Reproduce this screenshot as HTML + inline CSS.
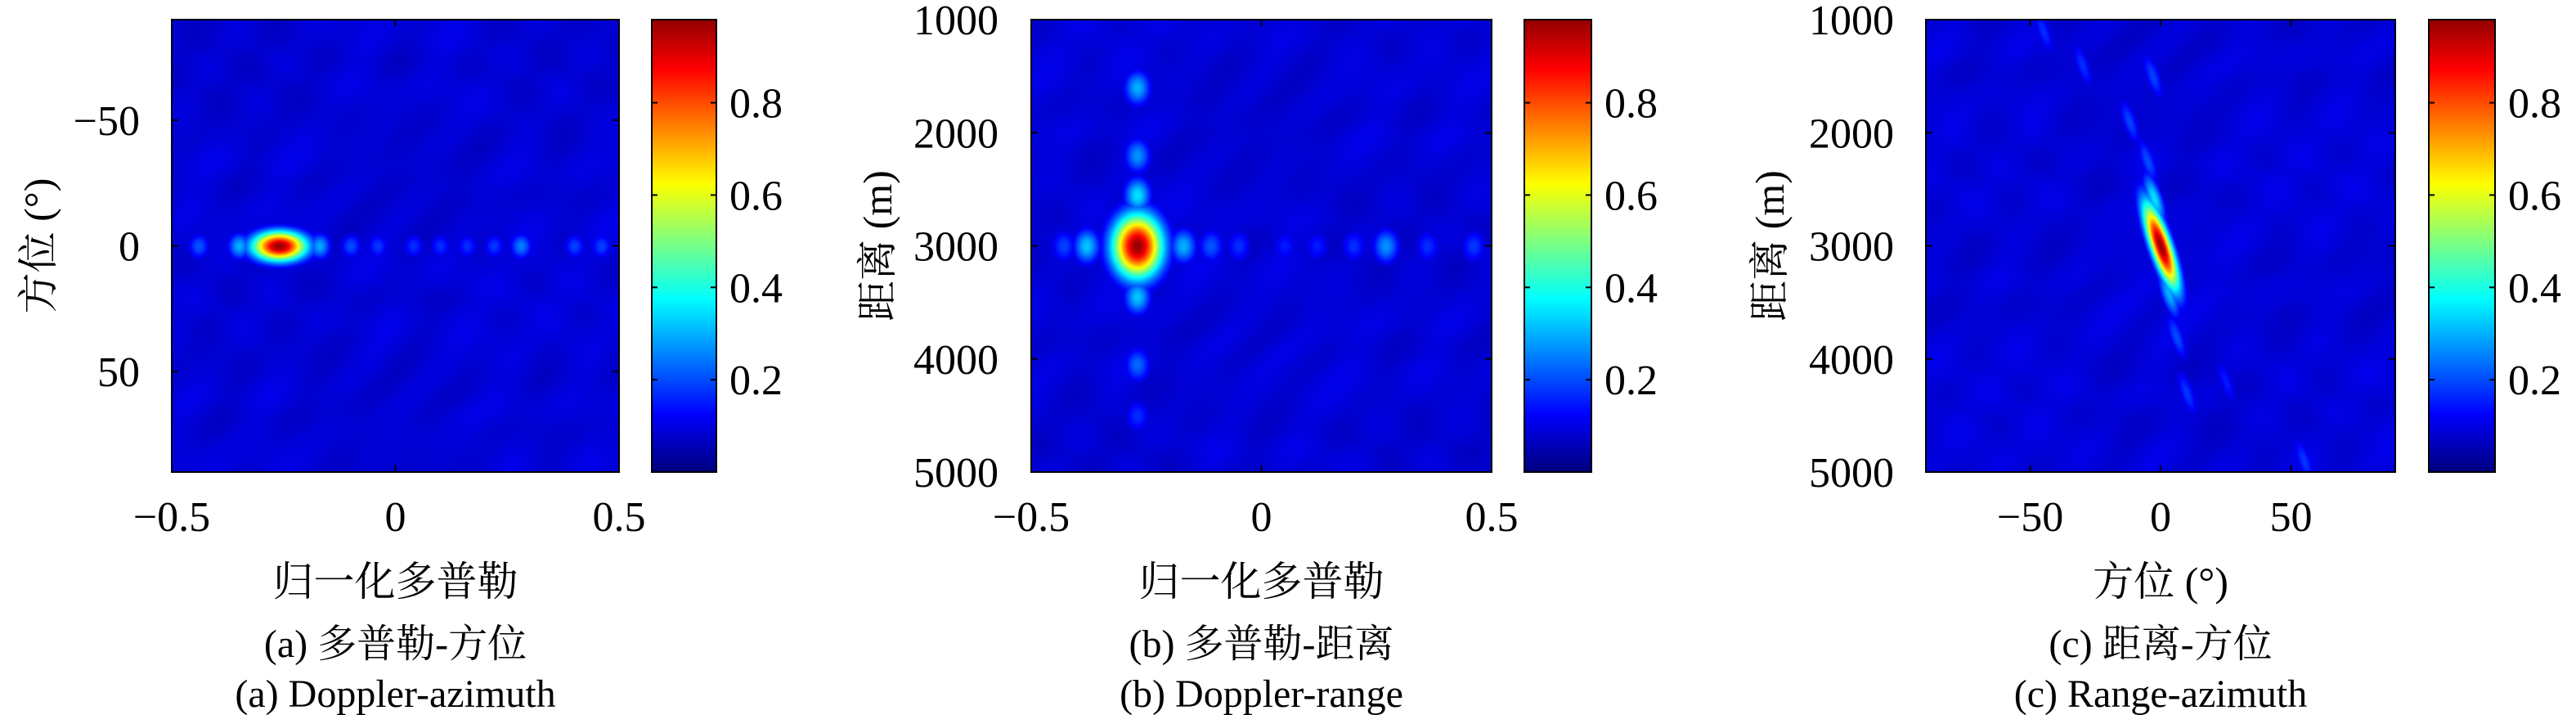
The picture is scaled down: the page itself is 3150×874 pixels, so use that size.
<!DOCTYPE html>
<html><head><meta charset="utf-8">
<style>
html,body{margin:0;padding:0;background:#fff;}
#root{position:relative;width:3150px;height:874px;overflow:hidden;background:#fff;}
canvas{position:absolute;}
svg{position:absolute;left:0;top:0;}
svg text{font-family:"Liberation Serif","Noto Serif CJK SC",serif;fill:#000;}
</style></head>
<body>
<div id="root">
<canvas id="ca" width="547" height="553" style="left:210px;top:24px"></canvas>
<canvas id="cb" width="563" height="553" style="left:1261px;top:24px"></canvas>
<canvas id="cc" width="574" height="553" style="left:2355px;top:24px"></canvas>
<canvas id="cba" width="79" height="553" style="left:797px;top:24px"></canvas>
<canvas id="cbb" width="82" height="553" style="left:1864px;top:24px"></canvas>
<canvas id="cbc" width="81" height="553" style="left:2970px;top:24px"></canvas>
<svg id="ov" width="3150" height="874"></svg>
</div>
<script>
// ---- data ----
// Panel a: Doppler (x) vs azimuth (y); blobs [doppler, azimuth, amplitude]
const aBlobs = [[-0.26,0,0.98],[-0.44,0,0.16],[-0.35,0,0.25],[-0.17,0,0.24],[-0.10,0,0.15],[-0.04,0,0.13],[0.04,0,0.12],[0.10,0,0.12],[0.16,0,0.12],[0.22,0,0.13],[0.28,0,0.2],[0.40,0,0.14],[0.46,0,0.14]];
const aXTicks = [-0.5,0,0.5];
const aXTickLabels = ["\u22120.5","0","0.5"];
const aYTicks = [-50,0,50];
const aYTickLabels = ["\u221250","0","50"];
// Panel b: Doppler (x) vs range (y); blobs [doppler, range, amplitude]
const bBlobs = [[-0.27,3000,0.98],[-0.27,1600,0.25],[-0.27,2200,0.22],[-0.27,2550,0.3],[-0.27,3450,0.27],[-0.27,4050,0.18],[-0.27,4500,0.12],[-0.38,3000,0.27],[-0.43,3000,0.14],[-0.17,3000,0.25],[-0.11,3000,0.16],[-0.05,3000,0.12],[0.05,3000,0.1],[0.12,3000,0.1],[0.2,3000,0.12],[0.27,3000,0.22],[0.36,3000,0.12],[0.46,3000,0.13]];
const bXTicks = [-0.5,0,0.5];
const bXTickLabels = ["\u22120.5","0","0.5"];
const bYTicks = [1000,2000,3000,4000,5000];
const bYTickLabels = ["1000","2000","3000","4000","5000"];
// Panel c: azimuth (x) vs range (y); blobs [azimuth, range, amplitude]
const cBlobs = [[0,3000,0.98],[-2.5,2580,0.3],[3,3420,0.25],[-5,2250,0.15],[6,3800,0.15],[-12,1900,0.14],[10,4300,0.13],[-3,1500,0.14],[-30,1400,0.12],[-45,1100,0.12],[25,4200,0.1],[55,4900,0.13]];
const cXTicks = [-50,0,50];
const cXTickLabels = ["\u221250","0","50"];
const cYTicks = [1000,2000,3000,4000,5000];
const cYTickLabels = ["1000","2000","3000","4000","5000"];
const cbTicks = [0.2,0.4,0.6,0.8];
const cbTickLabels = ["0.2","0.4","0.6","0.8"];
const cbMax = 0.98;

function jet(v){
  const c=x=>Math.max(0,Math.min(1,x));
  return [c(1.5-Math.abs(4*v-3))*255,c(1.5-Math.abs(4*v-2))*255,c(1.5-Math.abs(4*v-1))*255];
}
function lin(d0,d1,r0,r1){return v=>r0+(v-d0)/(d1-d0)*(r1-r0);}

const P = {
 a:{x:210,y:24,w:547,h:553,cb:797,cbw:79,xd:[-0.5,0.5],yd:[-90,90],blobs:aBlobs,xt:aXTicks,xl:aXTickLabels,yt:aYTicks,yl:aYTickLabels,
    main:[24,13,0],side:[10,12,0],canvas:'ca',cbc:'cba',ylab:'方位 (°)',ylx:47,xlab:'归一化多普勒',c1:'(a) 多普勒-方位',c2:'(a) Doppler-azimuth',tickR:171},
 b:{x:1261,y:24,w:563,h:553,cb:1864,cbw:82,xd:[-0.5,0.5],yd:[1000,5000],blobs:bBlobs,xt:bXTicks,xl:bXTickLabels,yt:bYTicks,yl:bYTickLabels,
    main:[22,28,0],side:[12,16,0],canvas:'cb',cbc:'cbb',ylab:'距离 (m)',ylx:1073,xlab:'归一化多普勒',c1:'(b) 多普勒-距离',c2:'(b) Doppler-range',tickR:1221},
 c:{x:2355,y:24,w:574,h:553,cb:2970,cbw:81,xd:[-90,90],yd:[1000,5000],blobs:cBlobs,xt:cXTicks,xl:cXTickLabels,yt:cYTicks,yl:cYTickLabels,
    main:[9,40,-0.33],side:[7,24,-0.33],canvas:'cc',cbc:'cbc',ylab:'距离 (m)',ylx:2164,xlab:'方位 (°)',c1:'(c) 距离-方位',c2:'(c) Range-azimuth',tickR:2316}
};

function drawHeat(p,seed){
  const cv=document.getElementById(p.canvas),ctx=cv.getContext('2d');
  const W=p.w,H=p.h,img=ctx.createImageData(W,H);
  const sx=lin(p.xd[0],p.xd[1],0,W), sy=lin(p.yd[0],p.yd[1],0,H);
  const bl=p.blobs.map((b,i)=>{const s=i===0?p.main:p.side;return {x:sx(b[0]),y:sy(b[1]),a:b[2],sa:s[0],sb:s[1],t:s[2]};});
  for(let j=0;j<H;j++)for(let i=0;i<W;i++){
    let v=0.085+0.012*Math.sin(i*0.031+seed+Math.sin(j*0.023+seed)*2.5)*Math.cos(j*0.041-seed*1.3+Math.cos(i*0.017)*2)+0.008*Math.sin(i*0.07+j*0.05+seed);
    for(const b of bl){
      const dx=i-b.x,dy=j-b.y,ct=Math.cos(b.t),st=Math.sin(b.t);
      const u=dx*ct+dy*st,w=-dx*st+dy*ct;
      const e=(u*u)/(b.sa*b.sa)+(w*w)/(b.sb*b.sb);
      if(e<14) v=Math.max(v,b.a*Math.exp(-e/2)+(b.a<0.5?0.05*Math.exp(-e/2):0));
    }
    const c=jet(Math.min(1,v)),k=(j*W+i)*4;
    img.data[k]=c[0];img.data[k+1]=c[1];img.data[k+2]=c[2];img.data[k+3]=255;
  }
  ctx.putImageData(img,0,0);
  const cb=document.getElementById(p.cbc),cx=cb.getContext('2d');
  for(let j=0;j<H;j++){const c=jet(cbMax*(1-j/(H-1)));cx.fillStyle=`rgb(${c[0]|0},${c[1]|0},${c[2]|0})`;cx.fillRect(0,j,cb.width,1);}
}

const NS='http://www.w3.org/2000/svg',ov=document.getElementById('ov');
const FF='"Liberation Serif","Noto Serif CJK SC",serif';
function el(tag,attrs,txt){const e=document.createElementNS(NS,tag);for(const k in attrs)e.setAttribute(k,attrs[k]);if(tag==='text')e.setAttribute('font-family',FF);if(txt!==undefined)e.textContent=txt;ov.appendChild(e);return e;}

let seed=0;
for(const key of ['a','b','c']){
  const p=P[key];seed+=1.7;
  drawHeat(p,seed);
  const sx=lin(p.xd[0],p.xd[1],p.x,p.x+p.w), sy=lin(p.yd[0],p.yd[1],p.y,p.y+p.h);
  const box=el('rect',{x:p.x,y:p.y,width:p.w,height:p.h,fill:'none',stroke:'#000','stroke-width':2});
  
  
  p.xt.forEach((t,i)=>{
    const X=sx(t);
    el('line',{x1:X,y1:p.y+p.h,x2:X,y2:p.y+p.h-8,stroke:'#000','stroke-width':2});
    el('line',{x1:X,y1:p.y,x2:X,y2:p.y+8,stroke:'#000','stroke-width':2});
    const tx=el('text',{x:X,y:649,'font-size':52,'text-anchor':'middle'},p.xl[i]);
    
    
  });
  p.yt.forEach((t,i)=>{
    const Y=sy(t);
    el('line',{x1:p.x,y1:Y,x2:p.x+8,y2:Y,stroke:'#000','stroke-width':2});
    el('line',{x1:p.x+p.w,y1:Y,x2:p.x+p.w-8,y2:Y,stroke:'#000','stroke-width':2});
    const ty=el('text',{x:p.tickR,y:Y+18,'font-size':52,'text-anchor':'end'},p.yl[i]);
    
    
  });
  const cbs=lin(0,cbMax,p.y+p.h,p.y);
  const cbr=el('rect',{x:p.cb,y:p.y,width:p.cbw,height:p.h,fill:'none',stroke:'#000','stroke-width':2});
  
  
  cbTicks.forEach((t,i)=>{
    const Y=cbs(t);
    el('line',{x1:p.cb,y1:Y,x2:p.cb+7,y2:Y,stroke:'#000','stroke-width':2});
    el('line',{x1:p.cb+p.cbw,y1:Y,x2:p.cb+p.cbw-7,y2:Y,stroke:'#000','stroke-width':2});
    const tl=el('text',{x:p.cb+p.cbw+16,y:Y+18,'font-size':52},cbTickLabels[i]);
    
    
  });
  const yl=el('text',{x:p.ylx,y:p.y+p.h/2,'font-size':50,'text-anchor':'middle','dominant-baseline':'central',transform:`rotate(-90 ${p.ylx} ${p.y+p.h/2})`},p.ylab);
  
  
  const cxm=p.x+p.w/2;
  const xl=el('text',{x:cxm,y:728,'font-size':50,'text-anchor':'middle'},p.xlab);
  
  
  const c1=el('text',{x:cxm,y:803,'font-size':48,'text-anchor':'middle'},p.c1);
  
  
  const c2=el('text',{x:cxm,y:864,'font-size':48,'text-anchor':'middle'},p.c2);
  
  
}
</script>
</body></html>
